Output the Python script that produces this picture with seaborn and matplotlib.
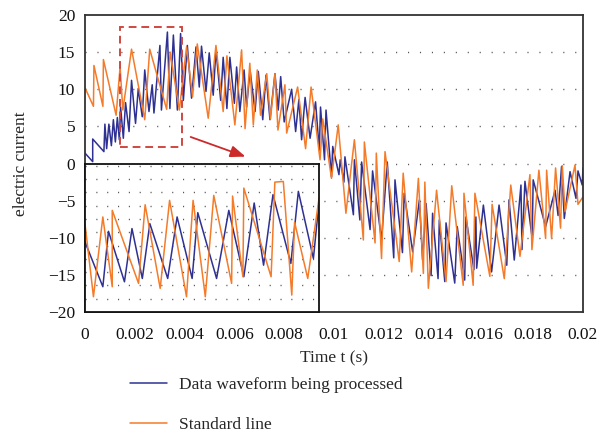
import numpy as np
import pandas as pd
import matplotlib
matplotlib.use("Agg")
import matplotlib.pyplot as plt
import seaborn as sns
from matplotlib.patches import Rectangle
from matplotlib.ticker import FuncFormatter

# ---------------- data (time in ms, current) ----------------
blue_t_ms = [0.00,0.31,0.31,0.76,0.80,0.87,0.96,1.06,1.14,1.22,1.30,1.38,1.43,1.54,1.63,1.77,1.87,2.03,2.14,2.30,2.40,2.57,2.70,2.77,3.01,3.07,3.31,3.41,3.55,3.71,3.84,3.95,
             4.11,4.28,4.46,4.59,4.68,4.86,4.99,5.15,5.26,5.45,5.55,5.70,5.82,6.00,6.09,6.22,6.39,6.49,6.63,6.83,6.96,7.14,7.27,7.43,7.63,7.76,7.86,8.00,8.30,8.46,8.59,8.70,8.84,9.04,
             9.26,9.41,9.46,9.62,9.68,9.90,9.95,10.20,10.25,10.40,10.44,10.78,10.82,11.04,11.11,11.45,11.55,11.91,12.14,12.40,12.45,12.75,12.82,13.16,13.43,13.56,13.70,13.90,13.96,
             14.18,14.23,14.45,14.50,14.85,14.95,15.25,15.30,15.62,15.70,15.73,16.00,16.33,16.63,16.94,17.03,17.24,17.51,17.55,17.67,17.96,18.00,18.50,18.88,19.00,19.14,19.25,19.48,
             19.72,19.80,19.97,20.00]
blue_y = [1.4,0.25,3.3,1.6,5.3,2.0,5.3,2.4,5.9,2.9,6.2,3.2,7.6,3.4,8.2,4.3,11.2,5.4,10.1,6.3,12.6,7.0,10.6,6.8,15.9,7.2,17.7,7.4,17.3,7.2,17.5,8.5,
          15.9,8.8,15.7,10.3,15.8,9.7,14.9,9.2,15.3,8.5,14.3,7.4,14.3,8.1,13.0,7.0,12.6,7.6,12.6,7.0,12.4,5.9,11.9,5.9,12.1,7.2,11.7,5.6,10.0,4.3,8.6,3.2,8.9,3.4,
          8.3,1.8,7.6,0.5,7.2,-1.8,2.3,-1.5,0.5,-2.5,0.9,-6.9,0.5,-7.6,0.2,-8.9,-1.0,-10.3,0.2,-12.7,-2.2,-12.0,-4.0,-11.9,-4.9,-13.0,-5.4,-15.1,-6.7,
          -15.5,-7.6,-15.9,-8.0,-16.1,-8.5,-15.7,-7.2,-14.3,-7.2,-14.1,-5.6,-14.6,-5.6,-13.7,-4.9,-13.0,-2.9,-11.6,-2.4,-10.1,-2.2,-8.5,-3.6,-7.0,-0.4,-7.4,-1.1,
          -4.7,-1.0,-2.9,-0.6]

orange_t_ms = [0.00,0.34,0.36,0.72,0.74,1.25,1.41,1.52,1.87,2.40,2.60,3.28,3.42,3.79,4.08,4.32,4.51,4.95,5.26,5.55,5.70,6.02,6.29,6.43,6.62,6.76,6.92,7.05,7.30,7.45,7.63,7.75,
               8.03,8.10,8.54,8.86,9.08,9.44,9.55,9.90,10.17,10.48,10.82,11.18,11.22,11.65,11.70,11.91,12.05,12.62,12.78,13.12,13.39,13.59,13.65,13.79,14.12,14.50,14.73,15.19,
               15.22,15.59,15.66,16.26,16.35,16.84,17.10,17.47,17.87,17.95,18.23,18.50,18.54,18.74,18.90,19.10,19.17,19.28,19.68,19.80,20.00]
orange_y = [10.2,7.7,13.2,7.7,14.0,6.5,13.0,7.2,15.4,5.9,15.4,7.3,15.0,7.2,15.7,9.0,16.1,6.1,15.9,7.0,14.5,5.2,15.3,4.7,13.5,5.2,12.6,6.5,12.1,6.0,12.1,4.5,
            10.6,4.1,10.3,2.0,10.3,0.5,6.0,-2.0,5.2,-6.7,3.2,-10.3,2.9,-10.7,1.4,-12.8,1.6,-13.2,-1.3,-14.6,-2.0,-14.8,-2.5,-16.8,-3.6,-15.9,-3.0,-16.4,
            -4.0,-16.4,-4.0,-15.2,-5.5,-15.5,-2.9,-12.5,-1.5,-11.6,-0.9,-10.1,-0.9,-10.1,-0.6,-8.7,-0.3,-6.5,-0.2,-5.5,-4.5]

# zoomed detail shown in the inset
inset_blue_t_ms = [1.41,1.60,1.66,1.83,1.91,2.02,2.10,2.29,2.39,2.55,2.61,2.81,2.94,3.10,3.21,3.31,3.41,3.60,3.68,3.84,3.90]
inset_blue_y = [9.85,4.96,11.0,5.5,11.3,5.86,11.84,5.86,12.57,5.86,13.04,5.86,13.29,6.05,14.09,7.31,15.0,7.5,15.36,8.04,14.2]
inset_orange_t_ms = [1.41,1.50,1.60,1.70,1.70,1.98,2.05,2.21,2.31,2.49,2.56,2.69,2.78,2.97,2.98,3.09,3.10,3.39,3.43,3.52,3.61,3.64,3.78,3.90]
inset_orange_y = [11.84,3.87,12.57,4.96,13.29,5.32,13.9,4.78,14.38,3.87,14.38,3.87,14.92,5.32,14.85,6.05,15.72,6.05,16.37,16.44,4.05,12.0,5.86,14.63]

series_names = ["Data waveform being processed", "Standard line"]
colors = {"Data waveform being processed": "#2E3192", "Standard line": "#F47B2A"}
xtick_vals = [0, 0.002, 0.004, 0.006, 0.008, 0.01, 0.012, 0.014, 0.016, 0.018, 0.02]
ytick_vals = [-20, -15, -10, -5, 0, 5, 10, 15, 20]

def frame(t_ms, y, name):
    return pd.DataFrame({"t": np.asarray(t_ms) * 1e-3, "current": y, "series": name})

df = pd.concat([frame(blue_t_ms, blue_y, series_names[0]),
                frame(orange_t_ms, orange_y, series_names[1])], ignore_index=True)
df_in = pd.concat([frame(inset_blue_t_ms, inset_blue_y, series_names[0]),
                   frame(inset_orange_t_ms, inset_orange_y, series_names[1])], ignore_index=True)

# ---------------- figure ----------------
sns.set_style("white")
plt.rcParams["font.family"] = ["Liberation Serif", "DejaVu Serif"]
plt.rcParams["axes.unicode_minus"] = True

fig = plt.figure(figsize=(6.01, 4.37), dpi=100)
ax = fig.add_axes([0.1414, 0.286, 0.8286, 0.6797])

sns.lineplot(data=df, x="t", y="current", hue="series", palette=colors, sort=False,
             estimator=None, linewidth=1.1, ax=ax, hue_order=series_names)

ax.set_xlim(0, 0.02)
ax.set_ylim(-20, 20)
ax.set_xticks(xtick_vals)
ax.set_yticks(ytick_vals)
ax.xaxis.set_major_formatter(FuncFormatter(lambda v, p: "%g" % round(v, 4)))
ax.tick_params(axis="x", length=0, labelsize=12.5, pad=11, colors="#111111")
ax.tick_params(axis="y", length=0, labelsize=12.5, pad=7, colors="#111111")
ax.set_xlabel("Time t (s)", fontsize=12.5, labelpad=5)
ax.set_ylabel("electric current", fontsize=12.5, labelpad=14)
for s in ax.spines.values():
    s.set_color("#333333")
    s.set_linewidth(1.3)
for yv in [-15, -10, -5, 0, 5, 10, 15]:
    ax.axhline(yv, color="#555555", linestyle=(0, (0.8, 7.8)), linewidth=1.0, zorder=0.5)

handles, labels = ax.get_legend_handles_labels()
ax.get_legend().remove()
fig.legend(handles, labels, loc="upper left", bbox_to_anchor=(0.217, 0.137),
           frameon=False, fontsize=12.5, handlelength=2.1, handletextpad=0.7,
           labelspacing=1.35, borderpad=0, borderaxespad=0)

# dashed region marker and arrow
ax.add_patch(Rectangle((1.41e-3, 2.2), 2.49e-3, 16.2, fill=False, edgecolor="#D0483F",
                       linestyle=(0, (4, 2.5)), linewidth=1.4, zorder=5))
ax.annotate("", xy=(6.55e-3, 0.8), xytext=(4.14e-3, 3.7),
            arrowprops=dict(arrowstyle="-|>,head_length=0.9,head_width=0.35",
                            color="#CC2A2A", linewidth=1.3), zorder=6)

# inset
axin = ax.inset_axes([0.0, 0.0, 0.47, 0.50])
axin.set_facecolor("white")
axin.set_zorder(4)
sns.lineplot(data=df_in, x="t", y="current", hue="series", palette=colors, sort=False,
             estimator=None, linewidth=1.1, ax=axin, hue_order=series_names, legend=False)
axin.set_xlim(1.41e-3, 3.90e-3)
axin.set_ylim(2.2, 18.4)
axin.set_xticks([])
axin.set_yticks([])
axin.set_xlabel("")
axin.set_ylabel("")
for s in axin.spines.values():
    s.set_color("#111111")
    s.set_linewidth(1.3)
for k in range(1, 12):
    yv = 2.2 + k * 1.45
    axin.axhline(yv, color="#555555", linestyle=(0, (0.8, 7.0)), linewidth=1.0, zorder=0.5)

fig.savefig("out.png", dpi=100)
